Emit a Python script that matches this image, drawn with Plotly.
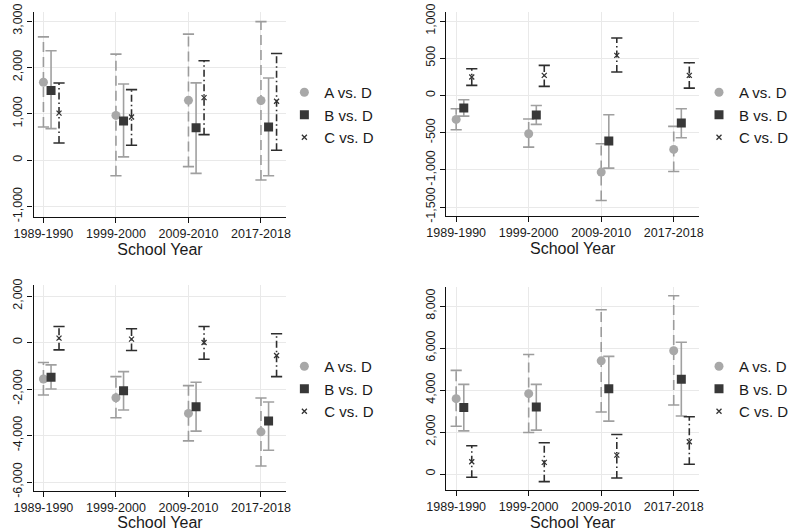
import plotly.graph_objects as go

# School years on the horizontal axis
YEARS = ["1989-1990", "1999-2000", "2009-2010", "2017-2018"]
SERIES = ["A vs. D", "B vs. D", "C vs. D"]

# Panel 1 (top left): point estimates with lower / upper confidence bounds
P1_A = [1680, 964, 1290, 1286]
P1_A_LO = [714, -336, -139, -429]
P1_A_HI = [2657, 2286, 2717, 2986]
P1_B = [1500, 843, 696, 714]
P1_B_LO = [679, 71, -286, -336]
P1_B_HI = [2357, 1643, 1665, 1771]
P1_C = [1014, 929, 1348, 1271]
P1_C_LO = [371, 321, 550, 214]
P1_C_HI = [1664, 1521, 2143, 2300]

# Panel 2 (top right)
P2_A = [-323, -516, -1031, -726]
P2_A_LO = [-462, -695, -1413, -1022]
P2_A_HI = [-179, -318, -650, -417]
P2_B = [-170, -265, -614, -372]
P2_B_LO = [-278, -390, -978, -569]
P2_B_HI = [-58, -135, -260, -179]
P2_C = [247, 269, 538, 269]
P2_C_LO = [135, 121, 314, 98]
P2_C_HI = [359, 404, 771, 439]

# Panel 3 (bottom left)
P3_A = [-1568, -2374, -3050, -3842]
P3_A_LO = [-2259, -3237, -4230, -5309]
P3_A_HI = [-863, -1468, -1856, -2388]
P3_B = [-1496, -2072, -2763, -3381]
P3_B_LO = [-2000, -2906, -3813, -4633]
P3_B_HI = [-964, -1252, -1712, -2561]
P3_C = [187, 144, 0, -561]
P3_C_LO = [-317, -345, -719, -1468]
P3_C_HI = [691, 590, 691, 374]

# Panel 4 (bottom right)
P4_A = [3589, 3826, 5390, 5871]
P4_A_LO = [2277, 1976, 2955, 3286]
P4_A_HI = [4933, 5692, 7820, 8490]
P4_B = [3162, 3194, 4060, 4510]
P4_B_LO = [2055, 2087, 2520, 2762]
P4_B_HI = [4269, 4269, 5600, 6271]
P4_C = [585, 553, 900, 1538]
P4_C_LO = [-158, -364, -190, 462]
P4_C_HI = [1344, 1486, 1880, 2729]

# Y tick values and labels per panel
P1_TICKS = [-1000, 0, 1000, 2000, 3000]
P1_LABELS = ["-1,000", "0", "1,000", "2,000", "3,000"]
P2_TICKS = [-1500, -1000, -500, 0, 500, 1000]
P2_LABELS = ["-1,500", "-1,000", "-500", "0", "500", "1,000"]
P3_TICKS = [-6000, -4000, -2000, 0, 2000]
P3_LABELS = ["-6,000", "-4,000", "-2,000", "0", "2,000"]
P4_TICKS = [0, 2000, 4000, 6000, 8000]
P4_LABELS = ["0", "2,000", "4,000", "6,000", "8,000"]

panels = [
    dict(series=[(P1_A, P1_A_LO, P1_A_HI), (P1_B, P1_B_LO, P1_B_HI), (P1_C, P1_C_LO, P1_C_HI)],
         ticks=P1_TICKS, labels=P1_LABELS, yrange=[-1226, 3194],
         xdom=[34, 290], ydom=[12, 217], legend_top=76, legend_left=288),
    dict(series=[(P2_A, P2_A_LO, P2_A_HI), (P2_B, P2_B_LO, P2_B_HI), (P2_C, P2_C_LO, P2_C_HI)],
         ticks=P2_TICKS, labels=P2_LABELS, yrange=[-1621, 1121],
         xdom=[452, 708], ydom=[12, 216], legend_top=76, legend_left=708),
    dict(series=[(P3_A, P3_A_LO, P3_A_HI), (P3_B, P3_B_LO, P3_B_HI), (P3_C, P3_C_LO, P3_C_HI)],
         ticks=P3_TICKS, labels=P3_LABELS, yrange=[-6387, 2473],
         xdom=[34, 290], ydom=[285, 491], legend_top=350, legend_left=288),
    dict(series=[(P4_A, P4_A_LO, P4_A_HI), (P4_B, P4_B_LO, P4_B_HI), (P4_C, P4_C_LO, P4_C_HI)],
         ticks=P4_TICKS, labels=P4_LABELS, yrange=[-762, 8905],
         xdom=[452, 708], ydom=[287, 490], legend_top=350, legend_left=708),
]

W, H = 794, 531
FONT = "Liberation Sans, Arial, sans-serif"

# Styling for each comparison: horizontal offset, marker, and interval line
styles = [
    dict(offset=0.0, symbol="circle", msize=9, mcolor="#a8a8a8",
         lcolor="#9c9c9c", dash="10px,5px", lwidth=1.6),
    dict(offset=0.105, symbol="square", msize=9, mcolor="#383838",
         lcolor="#a0a0a0", dash="solid", lwidth=1.6),
    dict(offset=0.215, symbol="x-thin", msize=5, mcolor="#333333",
         lcolor="#2e2e2e", dash="7px,3px,1.5px,3px", lwidth=1.6),
]

fig = go.Figure()
layout = dict(width=W, height=H, margin=dict(l=0, r=0, t=0, b=0),
              paper_bgcolor="white", plot_bgcolor="white",
              font=dict(family=FONT, color="#1a1a1a"))

for i, p in enumerate(panels):
    n = i + 1
    xa = "x" if n == 1 else f"x{n}"
    ya = "y" if n == 1 else f"y{n}"
    leg = "legend" if n == 1 else f"legend{n}"

    for (est, lo, hi), st, name in zip(p["series"], styles, SERIES):
        xs = [k + st["offset"] for k in range(len(YEARS))]
        # vertical interval lines
        lx, ly = [], []
        for x, l, h in zip(xs, lo, hi):
            lx += [x, x, None]
            ly += [l, h, None]
        fig.add_trace(go.Scatter(x=lx, y=ly, mode="lines", xaxis=xa, yaxis=ya,
                                 line=dict(color=st["lcolor"], width=st["lwidth"], dash=st["dash"]),
                                 showlegend=False, hoverinfo="skip"))
        # caps at both ends
        fig.add_trace(go.Scatter(x=xs + xs, y=list(lo) + list(hi), mode="markers",
                                 xaxis=xa, yaxis=ya, showlegend=False, hoverinfo="skip",
                                 marker=dict(symbol="line-ew", size=8,
                                             line=dict(color=st["lcolor"], width=1.6))))
        # point estimates
        mk = dict(symbol=st["symbol"], size=st["msize"], color=st["mcolor"])
        if st["symbol"] == "x-thin":
            mk["line"] = dict(color=st["mcolor"], width=1.3)
        fig.add_trace(go.Scatter(x=xs, y=est, mode="markers", name=name,
                                 xaxis=xa, yaxis=ya, legend=leg, marker=mk))

    x0, x1 = p["xdom"]
    y0, y1 = p["ydom"]
    layout["xaxis" if n == 1 else f"xaxis{n}"] = dict(
        domain=[x0 / W, x1 / W], anchor=ya, range=[-0.136, 3.35],
        tickvals=list(range(len(YEARS))), ticktext=YEARS,
        showgrid=True, gridcolor="#e9e9e9", gridwidth=1, zeroline=False,
        showline=True, linecolor="#111111", linewidth=1.2,
        ticks="outside", ticklen=5, tickcolor="#111111",
        tickfont=dict(size=12.5, family=FONT, color="#1a1a1a"),
        title=dict(text="School Year", font=dict(size=16, family=FONT, color="#1a1a1a"), standoff=1),
        automargin=False, fixedrange=True)
    layout["yaxis" if n == 1 else f"yaxis{n}"] = dict(
        domain=[1 - y1 / H, 1 - y0 / H], anchor=xa, range=p["yrange"],
        tickvals=p["ticks"], ticktext=p["labels"], tickangle=-90,
        showgrid=True, gridcolor="#e9e9e9", gridwidth=1, zeroline=False,
        showline=True, linecolor="#111111", linewidth=1.2,
        ticks="outside", ticklen=5, tickcolor="#111111",
        tickfont=dict(size=12.5, family=FONT, color="#1a1a1a"),
        automargin=False, fixedrange=True)
    layout[leg] = dict(x=p["legend_left"] / W, y=1 - p["legend_top"] / H,
                       xanchor="left", yanchor="top", bgcolor="rgba(0,0,0,0)",
                       font=dict(size=15, family=FONT, color="#1a1a1a"),
                       itemwidth=30, tracegroupgap=0)

fig.update_layout(**layout)
fig.write_html("out.html")
